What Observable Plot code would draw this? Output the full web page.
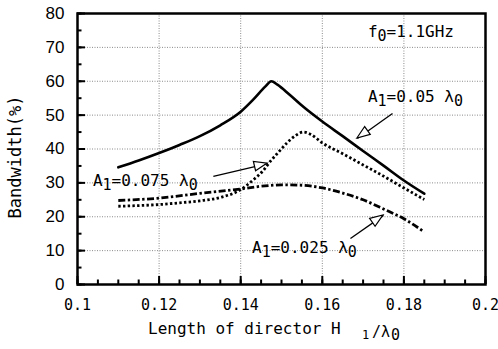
<!DOCTYPE html>
<html>
<head>
<meta charset="utf-8">
<script src="https://cdn.jsdelivr.net/npm/d3@7"></script>
<script src="https://cdn.jsdelivr.net/npm/@observablehq/plot@0.6"></script>
<style>
  html, body { margin: 0; padding: 0; background: #fff; }
  #chart svg { display: block; }
</style>
</head>
<body>
<div id="chart"></div>
<script>
// ---- Data ----
// A1 = 0.05 λ0 (solid)
const lenA050 = [0.11, 0.115, 0.12, 0.125, 0.13, 0.135, 0.14, 0.143, 0.146, 0.1475, 0.149, 0.152, 0.1555, 0.16, 0.165, 0.17, 0.175, 0.18, 0.185];
const bwA050  = [34.6, 36.6, 38.8, 41.2, 43.8, 47.0, 51.0, 54.5, 58.4, 60.0, 59.0, 56.0, 52.3, 48.1, 43.8, 39.4, 35.1, 30.7, 26.8];
// A1 = 0.075 λ0 (dotted)
const lenA075 = [0.11, 0.115, 0.12, 0.125, 0.13, 0.135, 0.14, 0.143, 0.1455, 0.1473, 0.1493, 0.1515, 0.1535, 0.1553, 0.1572, 0.16, 0.165, 0.17, 0.175, 0.18, 0.185];
const bwA075  = [23.1, 23.3, 23.6, 24.1, 24.7, 25.7, 28.0, 30.8, 33.6, 36.4, 39.1, 42.0, 44.0, 45.0, 44.3, 41.8, 38.6, 35.3, 32.0, 28.5, 25.1];
// A1 = 0.025 λ0 (dash-dot)
const lenA025 = [0.11, 0.12, 0.13, 0.14, 0.145, 0.15, 0.155, 0.16, 0.165, 0.17, 0.175, 0.18, 0.185];
const bwA025  = [24.8, 25.5, 26.9, 28.2, 29.0, 29.4, 29.3, 28.5, 27.0, 25.0, 22.3, 19.4, 15.5];

// Axis ticks and labels
const xTicks = [0.1, 0.12, 0.14, 0.16, 0.18, 0.2];
const xTickLabels = ["0.1", "0.12", "0.14", "0.16", "0.18", "0.2"];
const yTicks = [0, 10, 20, 30, 40, 50, 60, 70, 80];
const yTickLabels = ["0", "10", "20", "30", "40", "50", "60", "70", "80"];
const xGridTicks = [0.12, 0.14, 0.16, 0.18];
const yGridTicks = [10, 20, 30, 40, 50, 60, 70];
const xMinorTicks = d3.range(0, 21).map(i => 0.1 + i * 0.005);
const yMinorTicks = d3.range(0, 17).map(i => i * 5);

// Texts
const xTitle = "Length of director H";
const xTitleSuffix = ["1", "/λ", "0"];
const yTitle = "Bandwidth(%)";
// annotations ("_" marks the next character as a subscript)
const annoLabels = ["f_0=1.1GHz", "A_1=0.05 λ_0", "A_1=0.075 λ_0", "A_1=0.025 λ_0"];
const annoX = [0.1713, 0.1713, 0.1039, 0.1429];
const annoY = [72.9, 53.7, 29.0, 9.2];
// annotation arrows (tail -> tip)
const arrowX1 = [0.1772, 0.1333, 0.1669];
const arrowY1 = [50.5, 31.9, 13.6];
const arrowX2 = [0.1686, 0.1466, 0.1750];
const arrowY2 = [43.1, 35.7, 20.4];

const toRows = (xs, ys) => xs.map((x, i) => ({x, y: ys[i]}));
const s050 = toRows(lenA050, bwA050);
const s075 = toRows(lenA075, bwA075);
const s025 = toRows(lenA025, bwA025);
const arrows = arrowX1.map((x1, i) => ({x1, y1: arrowY1[i], x2: arrowX2[i], y2: arrowY2[i]}));

const W = 498, H = 349;
const mL = 77, mR = 13, mT = 13, mB = 65;
const plotW = W - mL - mR, plotH = H - mT - mB;
const MONO = "'DejaVu Sans Mono', monospace";
const SANS = "'Liberation Sans', Arial, sans-serif";

const chart = Plot.plot({
  width: W,
  height: H,
  marginLeft: mL, marginRight: mR, marginTop: mT, marginBottom: mB,
  style: {fontFamily: MONO, fontSize: "16px", color: "#000", background: "#fff"},
  x: {domain: [0.1, 0.2]},
  y: {domain: [0, 80]},
  marks: [
    Plot.gridX(xGridTicks, {stroke: "#8a8a8a", strokeOpacity: 1, strokeWidth: 1, strokeDasharray: "1,1.5"}),
    Plot.gridY(yGridTicks, {stroke: "#8a8a8a", strokeOpacity: 1, strokeWidth: 1, strokeDasharray: "1,1.5"}),
    Plot.tickX(xMinorTicks, {x: d => d, insetTop: plotH - 4.5, stroke: "#000", strokeWidth: 2}),
    Plot.tickX(xTicks, {x: d => d, insetTop: plotH - 8, stroke: "#000", strokeWidth: 2}),
    Plot.tickY(yMinorTicks, {y: d => d, insetRight: plotW - 4.5, stroke: "#000", strokeWidth: 2}),
    Plot.tickY(yTicks, {y: d => d, insetRight: plotW - 8, stroke: "#000", strokeWidth: 2}),
    Plot.line(s050, {x: "x", y: "y", curve: "monotone-x", stroke: "#000", strokeWidth: 2.6}),
    Plot.line(s075, {x: "x", y: "y", curve: "monotone-x", stroke: "#000", strokeWidth: 2.8, strokeDasharray: "2.4,2.3", strokeLinecap: "butt"}),
    Plot.line(s025, {x: "x", y: "y", curve: "monotone-x", stroke: "#000", strokeWidth: 2.8, strokeDasharray: "7,2.5,2.4,2.5", strokeLinecap: "butt"}),
    Plot.link(arrows, {x1: "x1", y1: "y1", x2: "x2", y2: "y2", stroke: "#000", strokeWidth: 1.3}),
    Plot.frame({stroke: "#000", strokeWidth: 2.5}),
    Plot.axisX(xTicks, {tickSize: 0, tickPadding: 15, fontSize: 15, tickFormat: d => xTickLabels[xTicks.indexOf(d)], label: null}),
    Plot.axisY(yTicks, {tickSize: 0, tickPadding: 13, fontSize: 17, fontFamily: SANS, tickFormat: d => yTickLabels[yTicks.indexOf(d)], label: null})
  ]
});

document.getElementById("chart").appendChild(chart);

// ---- Annotations placed through the chart's own scales ----
const sx = chart.scale("x"), sy = chart.scale("y");
const svg = d3.select(chart);
const g = svg.append("g").attr("font-family", MONO).attr("fill", "#000").attr("text-anchor", "start");

// hollow arrow heads
arrows.forEach(a => {
  const tx = sx.apply(a.x2), ty = sy.apply(a.y2);
  const fx = sx.apply(a.x1), fy = sy.apply(a.y1);
  const dx = tx - fx, dy = ty - fy, len = Math.hypot(dx, dy);
  const ux = dx / len, uy = dy / len, nx = -uy, ny = ux;
  const hl = 13, hw = 4.8;
  const bx = tx - ux * hl, by = ty - uy * hl;
  g.append("path")
    .attr("d", `M${tx},${ty}L${bx + nx * hw},${by + ny * hw}L${bx - nx * hw},${by - ny * hw}Z`)
    .attr("fill", "#fff").attr("stroke", "#000").attr("stroke-width", 1.2).attr("stroke-linejoin", "miter");
});

// labels with subscripts
annoLabels.forEach((label, i) => {
  const t = g.append("text")
    .attr("x", sx.apply(annoX[i])).attr("y", sy.apply(annoY[i]))
    .attr("font-size", 16);
  let j = 0, buf = "", lowered = false;
  const flush = () => { if (buf) { t.append("tspan").text(buf).attr("dy", lowered ? -4 : 0); buf = ""; lowered = false; } };
  while (j < label.length) {
    if (label[j] === "_") {
      flush();
      t.append("tspan").text(label[j + 1]).attr("dy", 4).attr("font-size", 15);
      lowered = true;
      j += 2;
    } else {
      if (lowered) { t.append("tspan").text(label[j]).attr("dy", -4); lowered = false; }
      else buf += label[j];
      j += 1;
    }
  }
  flush();
});

// axis titles
g.append("text").attr("x", 148).attr("y", 334).attr("font-size", 16).text(xTitle);
g.append("text").attr("x", 362).attr("y", 338.5).attr("font-size", 12).text(xTitleSuffix[0]);
g.append("text").attr("x", 372).attr("y", 337).attr("font-size", 15).text(xTitleSuffix[1]);
g.append("text").attr("x", 391).attr("y", 339.5).attr("font-size", 15).text(xTitleSuffix[2]);

g.append("text")
  .attr("transform", "translate(21,157) rotate(-90)")
  .attr("text-anchor", "middle")
  .attr("font-size", 17)
  .text(yTitle);
</script>
</body>
</html>
